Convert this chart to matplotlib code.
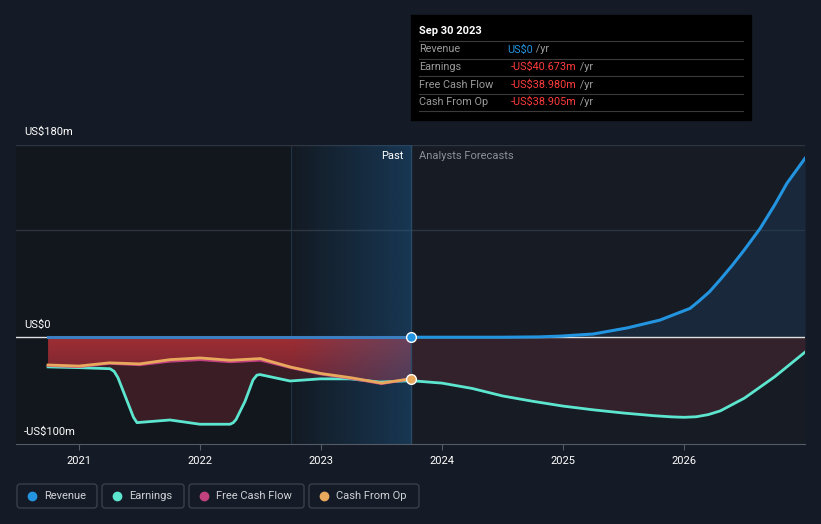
import matplotlib.pyplot as plt
import numpy as np
from matplotlib.colors import LinearSegmentedColormap, to_rgb
from matplotlib.patches import Rectangle, FancyBboxPatch

plt.rcParams['font.family'] = ['Roboto', 'DejaVu Sans']

# trailing values, US$m
earn_past_x = [2020.744, 2021.0, 2021.256, 2021.29, 2021.322, 2021.405, 2021.45, 2021.479,
               2021.587, 2021.752, 2021.876, 2022.0, 2022.248, 2022.275, 2022.298, 2022.372,
               2022.438, 2022.47, 2022.496, 2022.62, 2022.744, 2022.992, 2023.24, 2023.488,
               2023.744]
earn_past = [-27.8, -28.5, -29.5, -32, -38, -62, -75, -80, -79, -77.5, -79.5, -81.5, -81.5,
             -80, -77, -60, -40, -35.5, -35, -38, -41, -39, -39, -42, -40.7]

cf_x = [2020.744, 2021.0, 2021.25, 2021.5, 2021.75, 2022.0, 2022.25, 2022.5, 2022.75,
        2023.0, 2023.25, 2023.5, 2023.744]
cfo = [-26, -27, -24, -25, -21, -19.4, -21.6, -20, -28, -34, -38, -43, -38.9]
fcf = [-26.5, -27.5, -24.5, -25.8, -22.5, -21, -23, -21.5, -28.5, -34.5, -38.5, -43.5, -39.0]

rev_past_x = [2020.744, 2023.744]
rev_past = [0, 0]

# analyst forecasts
fc_x = [2023.744, 2024.0, 2024.25, 2024.5, 2024.75, 2025.0, 2025.25, 2025.5, 2025.75,
        2025.9, 2026.0, 2026.1, 2026.2, 2026.3, 2026.5, 2026.75, 2027.0]
earn_fc = [-40.7, -43, -48, -55, -60, -64.5, -68, -71, -73.5, -74.6, -75, -74.5, -72.5, -69,
           -57, -37, -14]

rev_fc_x = [2023.744, 2024.5, 2024.8, 2024.975, 2025.25, 2025.53, 2025.8, 2026.05, 2026.12,
            2026.21, 2026.3, 2026.4, 2026.5, 2026.63, 2026.75, 2026.85, 2026.92, 2027.0]
rev_fc = [0, 0, 0.3, 1, 3, 8.7, 16, 27, 33.5, 42.5, 54, 67.5, 82, 102, 124, 144, 155, 167.5]

years = [2021, 2022, 2023, 2024, 2025, 2026]
now = 2023.744

bg = '#151b26'
c_rev = '#2394df'
c_earn = '#5de6cf'
c_fcf = '#c2417f'
c_cfo = '#e8a95d'

fig = plt.figure(figsize=(8.21, 5.24), dpi=100)
fig.patch.set_facecolor(bg)
W, H = 821, 524
ax = fig.add_axes([16 / W, (H - 444) / H, 789 / W, 299 / H])
ax.set_facecolor('#161b24')
x0, x1 = 2020.479, 2027.0
ax.set_xlim(x0, x1)
ax.set_ylim(-100, 180)

# background regions
ax.axvspan(x0, 2022.75, color='#12161d', zorder=0, lw=0)
ax.axvspan(2022.75, now, color='#131a23', zorder=0, lw=0)
ax.axvline(2022.75, color='#1d3346', lw=0.8, zorder=0.5)

# fills
ax.fill_between(earn_past_x, earn_past, 0, color='#3a1d25', lw=0, zorder=1)
ax.fill_between(fc_x, earn_fc, 0, color='#33222b', lw=0, zorder=1)
poly = ax.fill_between(cf_x, cfo, 0, color='none', lw=0, zorder=1)
rg = np.linspace(1, 0, 256).reshape(-1, 1)
im = ax.imshow(rg, extent=[x0, now, -45, 0], aspect='auto', zorder=1.2,
               cmap=LinearSegmentedColormap.from_list('r', ['#6e2430', '#a02e34']))
im.set_clip_path(poly.get_paths()[0], transform=ax.transData)
ax.fill_between(rev_fc_x, rev_fc, 0, color='#1d3a58', alpha=0.45, lw=0, zorder=1)

# highlighted last year: blue tint growing to the right
tint = np.zeros((1, 256, 4))
tint[..., :3] = to_rgb('#1f5f95')
tint[..., 3] = np.linspace(0.0, 0.42, 256)
ax.imshow(tint, extent=[2022.75, now, -100, 180], aspect='auto', zorder=1.5)

# grid
for v in [180, 100]:
    ax.axhline(v, color='#2f3540', lw=1, zorder=0.6)
ax.axhline(0, color='#e0e0e0', lw=1, zorder=2)
ax.axvline(now, color='#2a4a66', lw=1, zorder=2)

# lines
ax.plot(earn_past_x, earn_past, color=c_earn, lw=2, zorder=3)
ax.plot(fc_x, earn_fc, color=c_earn, lw=2, zorder=3)
ax.plot(cf_x, fcf, color=c_fcf, lw=2, zorder=3)
ax.plot(cf_x, cfo, color=c_cfo, lw=2, zorder=3.2)
ax.plot(rev_past_x, rev_past, color='#3b7fc0', lw=2.2, zorder=3)
ax.plot(rev_fc_x, rev_fc, color=c_rev, lw=2.2, zorder=3)
ax.plot([now], [0], 'o', ms=7, color=c_rev, mec='white', mew=1, zorder=4)
ax.plot([now], [cfo[-1]], 'o', ms=7, color=c_cfo, mec='white', mew=1, zorder=4)

for s in ['top', 'right', 'left']:
    ax.spines[s].set_visible(False)
ax.spines['bottom'].set_color('#555b66')
ax.set_yticks([])
ax.set_xticks(years)
ax.set_xticklabels([str(y) for y in years], color='white', fontsize=8)
ax.tick_params(axis='x', colors='#555b66', length=4, labelcolor='white', pad=5)

ax.text(now - 0.065, 170, 'Past', color='white', fontsize=8, ha='right', va='center', zorder=5)
ax.text(now + 0.065, 170, 'Analysts Forecasts', color='#8a8f98', fontsize=8, ha='left',
        va='center', zorder=5)

# overlay in pixel coordinates
ov = fig.add_axes([0, 0, 1, 1], facecolor='none')
ov.set_xlim(0, W)
ov.set_ylim(H, 0)
ov.axis('off')

ov.text(24, 132, 'US$180m', color='white', fontsize=8, va='center')
ov.text(24, 325, 'US$0', color='white', fontsize=8, va='center')
ov.text(24, 432, '-US$100m', color='white', fontsize=8, va='center')

# tooltip
ov.add_patch(Rectangle((411, 15), 340, 105, color='black', zorder=5))
ov.text(419, 31, 'Sep 30 2023', color='white', fontsize=8, fontweight='bold', va='center', zorder=6)
for yy in [41, 58.5, 76, 93.5, 111]:
    ov.plot([419, 743], [yy, yy], color='#3a3a3a', lw=0.8, zorder=6)
rows = [('Revenue', 'US$0', c_rev, 507), ('Earnings', '-US$40.673m', '#ff3b3b', 511),
        ('Free Cash Flow', '-US$38.980m', '#ff3b3b', 511),
        ('Cash From Op', '-US$38.905m', '#ff3b3b', 511)]
for i, (lab, val, col, vx) in enumerate(rows):
    yy = 49.5 + i * 17.5
    ov.text(419, yy, lab, color='#9a9a9a', fontsize=7.8, va='center', zorder=6)
    t = ov.text(vx, yy, val, color=col, fontsize=7.8, va='center', zorder=6)
    ov.annotate(' /yr', xycoords=t, xy=(1, 0.5), va='center', color='#9a9a9a', fontsize=7.8,
                zorder=6)

# legend
items = [('Revenue', c_rev, 17, 97), ('Earnings', c_earn, 102, 184),
         ('Free Cash Flow', c_fcf, 189, 304), ('Cash From Op', c_cfo, 309, 419)]
for lab, col, a, b in items:
    ov.add_patch(FancyBboxPatch((a, 484), b - a, 24, boxstyle='round,pad=0,rounding_size=3',
                                fc='none', ec='#3a404b', lw=1))
    ov.plot([a + 15], [496], 'o', ms=6, color=col)
    ov.text(a + 27, 496, lab, color='#cfd2d6', fontsize=8, va='center')

fig.savefig('out.png', dpi=100, facecolor=bg)
